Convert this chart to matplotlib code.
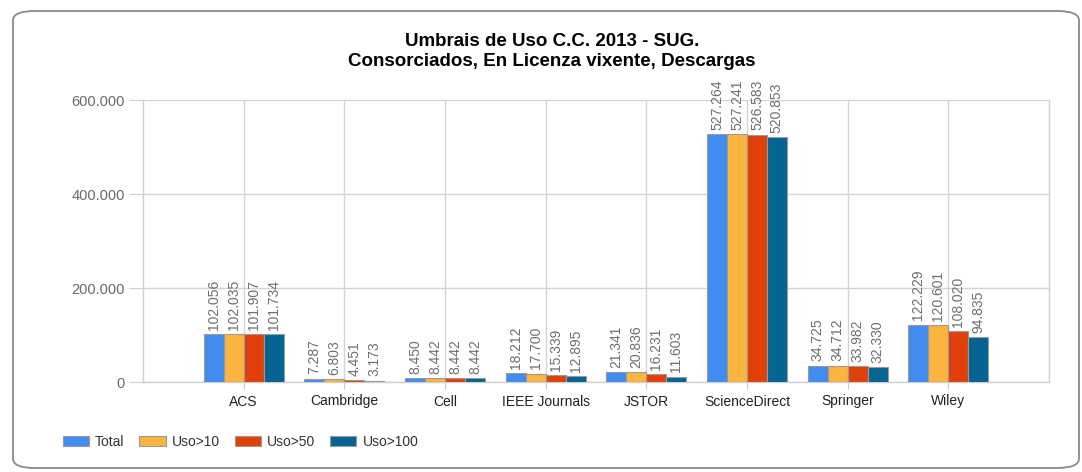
import matplotlib
matplotlib.use("Agg")
import matplotlib.pyplot as plt
import numpy as np
from matplotlib.patches import FancyBboxPatch, Patch
from matplotlib.ticker import FuncFormatter

categories = ["ACS", "Cambridge", "Cell", "IEEE Journals", "JSTOR", "ScienceDirect", "Springer", "Wiley"]
series_names = ["Total", "Uso>10", "Uso>50", "Uso>100"]
total = [102056, 7287, 8450, 18212, 21341, 527264, 34725, 122229]
uso10 = [102035, 6803, 8442, 17700, 20836, 527241, 34712, 120601]
uso50 = [101907, 4451, 8442, 15339, 16231, 526583, 33982, 108020]
uso100 = [101734, 3173, 8442, 12895, 11603, 520853, 32330, 94835]
colors = ["#418CF0", "#FCB441", "#E0400A", "#056492"]
yticks = [0, 200000, 400000, 600000]

def fmt(v):
    return f"{int(v):,}".replace(",", ".")

plt.rcParams['font.family'] = ['Liberation Sans', 'DejaVu Sans']

fig = plt.figure(figsize=(10.82, 4.72), dpi=100)
W, H = 1082, 472

# rounded frame
frame = FancyBboxPatch((13 / W, 4 / H), 1066 / W, 457 / H,
                       boxstyle="round,pad=0,rounding_size=0.02",
                       transform=fig.transFigure, facecolor="white",
                       edgecolor="#8a8a8a", linewidth=1.3, zorder=-5)
fig.patches.append(frame)

ax = fig.add_axes([143 / W, 1 - 382 / H, (1049 - 143) / W, (382 - 100) / H])
ax.set_zorder(2)
ax.set_facecolor("none")

x = np.arange(len(categories))
bw = 0.198
data = [total, uso10, uso50, uso100]
for i, (vals, c) in enumerate(zip(data, colors)):
    pos = x + (i - 1.5) * bw
    ax.bar(pos, vals, width=bw, color=c, edgecolor="#9a9a9a", linewidth=0.8, zorder=3)
    for px, v in zip(pos, vals):
        ax.text(px, v + 9000, fmt(v), rotation=90, ha="center", va="bottom",
                fontsize=10, color="#6e6e6e", zorder=4)

ax.set_xlim(-1, len(categories))
ax.set_ylim(0, 600000)
ax.set_yticks(yticks)
ax.yaxis.set_major_formatter(FuncFormatter(lambda v, p: fmt(v)))
ax.set_xticks(x)
ax.set_xticklabels(categories)
ax.tick_params(axis="x", length=5, color="#c8c8c8", labelsize=10, labelcolor="#222222", pad=4)
ax.tick_params(axis="y", length=10, color="#d0d0d0", labelsize=10.5, labelcolor="#6a6a6a", pad=3)
ax.grid(True, color="#d4d4d4", linewidth=1.0, zorder=0)
ax.set_axisbelow(True)
ax.spines["top"].set_visible(False)
for s in ["left", "bottom", "right"]:
    ax.spines[s].set_color("#d0d0d0")
    ax.spines[s].set_linewidth(1.0)

fig.text(552 / W, 1 - 42 / H, "Umbrais de Uso C.C. 2013 - SUG.",
         ha="center", va="center", fontsize=13.5, fontweight="bold")
fig.text(552 / W, 1 - 62 / H, "Consorciados, En Licenza vixente, Descargas",
         ha="center", va="center", fontsize=13.5, fontweight="bold")

handles = [Patch(facecolor=c, edgecolor="#9a9a9a", linewidth=0.8) for c in colors]
leg = fig.legend(handles, series_names, loc="center left", bbox_to_anchor=(50 / W, 1 - 442 / H),
                 ncol=4, frameon=False, fontsize=10, handlelength=1.9, handleheight=0.75,
                 columnspacing=1.05, handletextpad=0.45)
for t in leg.get_texts():
    t.set_color("#333333")

fig.savefig("out.png", dpi=100)
